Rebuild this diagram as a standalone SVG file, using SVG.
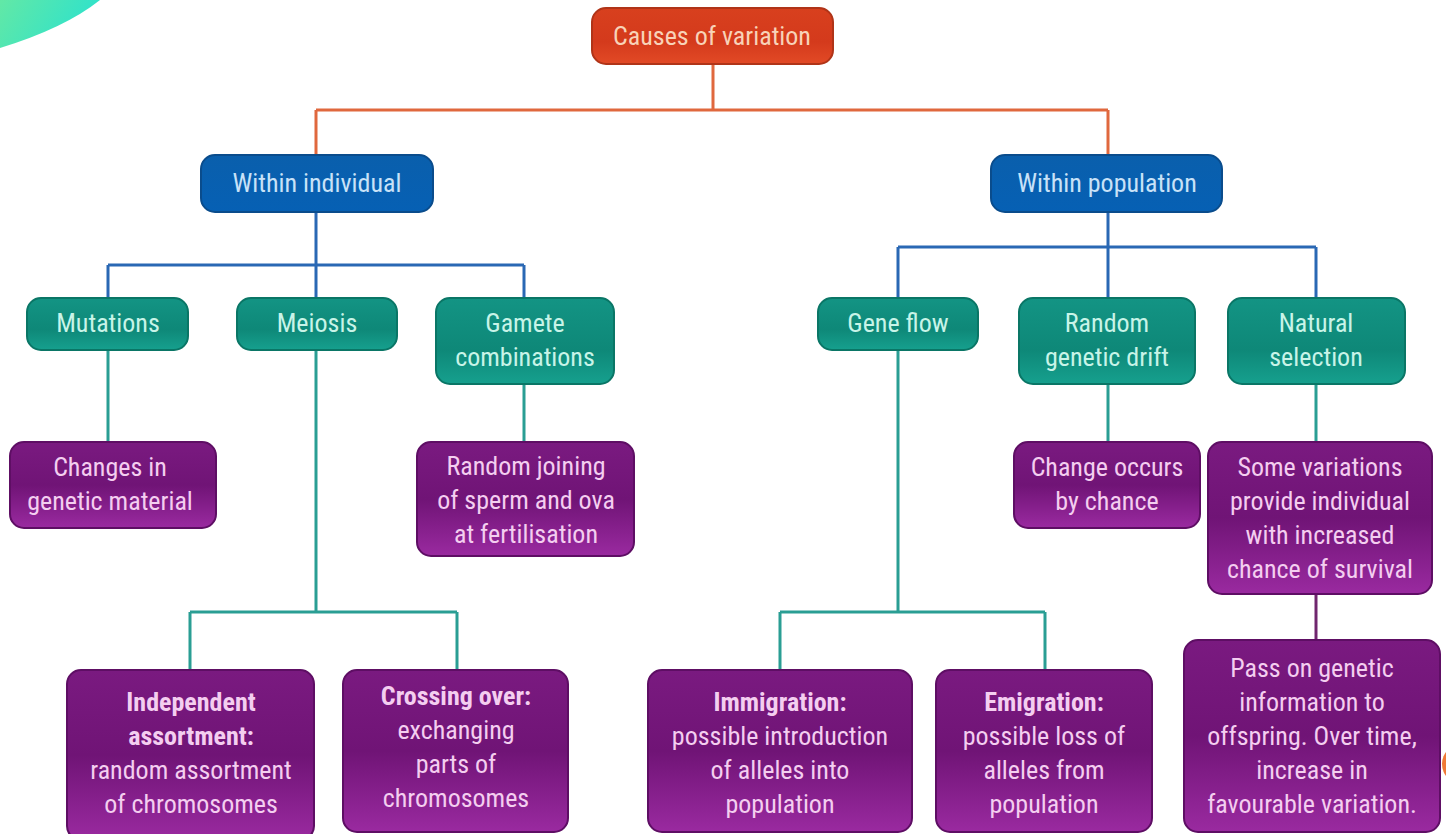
<svg xmlns="http://www.w3.org/2000/svg" width="1446" height="834" viewBox="0 0 1446 834">
<defs>
<linearGradient id="gTop" x1="0" y1="0" x2="1" y2="0.3"><stop offset="0" stop-color="#62e8a6"/><stop offset="1" stop-color="#2ee2cc"/></linearGradient>
<linearGradient id="gRed" x1="0" y1="0" x2="0" y2="1"><stop offset="0" stop-color="#d8401e"/><stop offset="0.6" stop-color="#d43a1c"/><stop offset="1" stop-color="#e24a26"/></linearGradient>
<linearGradient id="gBlue" x1="0" y1="0" x2="0" y2="1"><stop offset="0" stop-color="#0a5fac"/><stop offset="1" stop-color="#0660b4"/></linearGradient>
<linearGradient id="gTeal" x1="0" y1="0" x2="0" y2="1"><stop offset="0" stop-color="#139484"/><stop offset="0.6" stop-color="#0e8878"/><stop offset="1" stop-color="#16a08e"/></linearGradient>
<linearGradient id="gPurple" x1="0" y1="0" x2="0" y2="1"><stop offset="0" stop-color="#7a1a80"/><stop offset="0.5" stop-color="#701476"/><stop offset="1" stop-color="#9a2aa0"/></linearGradient>
</defs>
<style>
text{font-family:"Liberation Sans Narrow","Roboto Condensed","DejaVu Sans Condensed","Liberation Sans",sans-serif;font-stretch:condensed;font-size:26px;text-anchor:middle}
.red rect{fill:url(#gRed);stroke:#b03418;stroke-width:2}
.red text{fill:#f8d2b8}
.blue rect{fill:url(#gBlue);stroke:#0a4c8c;stroke-width:2}
.blue text{fill:#c8e2f8}
.teal rect{fill:url(#gTeal);stroke:#0a7666;stroke-width:2}
.teal text{fill:#c8f4e8}
.pur rect{fill:url(#gPurple);stroke:#5e0e64;stroke-width:2}
.pur text{fill:#f4cef0}
.b{font-weight:bold}
#connectors path{fill:none;stroke-width:3}
.lo{stroke:#e0683e}.lb{stroke:#2a68b4}.lt{stroke:#2a9e94}.lp{stroke:#70266e}
</style>
<rect width="1446" height="834" fill="#ffffff"/>
<path d="M0,0 L100,0 Q65,28 0,48 Z" fill="url(#gTop)"/>
<circle cx="1462" cy="764" r="20" fill="#f07a36"/>
<g id="connectors">
<path class="lo" d="M713,64 V110 M316,110 H1108 M316,110 V155 M1108,110 V155"/>
<path class="lb" d="M316,212 V265 M108,265 H524 M108,265 V298 M316,265 V298 M524,265 V298"/>
<path class="lb" d="M1108,212 V247 M898,247 H1316 M898,247 V298 M1108,247 V298 M1316,247 V298"/>
<path class="lt" d="M108,350 V442 M524,384 V442 M316,350 V612 M190,612 H457 M190,612 V670 M457,612 V670"/>
<path class="lt" d="M898,350 V612 M780,612 H1045 M780,612 V670 M1045,612 V670 M1108,384 V442 M1316,384 V442"/>
<path class="lp" d="M1316,594 V640"/>
</g>
<g id="causes" class="red"><rect x="592" y="8" width="241" height="56" rx="14"/><text x="712" y="45">Causes of variation</text></g>
<g id="within-individual" class="blue"><rect x="201" y="155" width="232" height="57" rx="14"/><text x="317" y="192">Within individual</text></g>
<g id="within-population" class="blue"><rect x="991" y="155" width="231" height="57" rx="14"/><text x="1107" y="192">Within population</text></g>
<g id="mutations" class="teal"><rect x="27" y="298" width="161" height="52" rx="14"/><text x="108" y="332">Mutations</text></g>
<g id="meiosis" class="teal"><rect x="237" y="298" width="160" height="52" rx="14"/><text x="317" y="332">Meiosis</text></g>
<g id="gamete" class="teal"><rect x="436" y="298" width="178" height="86" rx="14"/><text x="525" y="332">Gamete</text><text x="525" y="366">combinations</text></g>
<g id="gene-flow" class="teal"><rect x="818" y="298" width="160" height="52" rx="14"/><text x="898" y="332">Gene flow</text></g>
<g id="drift" class="teal"><rect x="1019" y="298" width="176" height="86" rx="14"/><text x="1107" y="332">Random</text><text x="1107" y="366">genetic drift</text></g>
<g id="natural" class="teal"><rect x="1228" y="298" width="177" height="86" rx="14"/><text x="1316" y="332">Natural</text><text x="1316" y="366">selection</text></g>
<g id="changes" class="pur"><rect x="10" y="442" width="206" height="86" rx="14"/><text x="110" y="476">Changes in</text><text x="110" y="510">genetic material</text></g>
<g id="random-joining" class="pur"><rect x="417" y="442" width="217" height="114" rx="14"/><text x="526" y="475">Random joining</text><text x="526" y="509">of sperm and ova</text><text x="526" y="543">at fertilisation</text></g>
<g id="chance" class="pur"><rect x="1014" y="442" width="186" height="86" rx="14"/><text x="1107" y="476">Change occurs</text><text x="1107" y="510">by chance</text></g>
<g id="some-variations" class="pur"><rect x="1208" y="442" width="224" height="152" rx="14"/><text x="1320" y="476">Some variations</text><text x="1320" y="510">provide individual</text><text x="1320" y="544">with increased</text><text x="1320" y="578">chance of survival</text></g>
<g id="independent" class="pur"><rect x="67" y="670" width="247" height="170" rx="14"/><text class="b" x="191" y="711">Independent</text><text class="b" x="191" y="745">assortment:</text><text x="191" y="779">random assortment</text><text x="191" y="813">of chromosomes</text></g>
<g id="crossing" class="pur"><rect x="343" y="670" width="225" height="162" rx="14"/><text class="b" x="456" y="705">Crossing over:</text><text x="456" y="739">exchanging</text><text x="456" y="773">parts of</text><text x="456" y="807">chromosomes</text></g>
<g id="immigration" class="pur"><rect x="648" y="670" width="264" height="162" rx="14"/><text class="b" x="780" y="711">Immigration:</text><text x="780" y="745">possible introduction</text><text x="780" y="779">of alleles into</text><text x="780" y="813">population</text></g>
<g id="emigration" class="pur"><rect x="936" y="670" width="216" height="162" rx="14"/><text class="b" x="1044" y="711">Emigration:</text><text x="1044" y="745">possible loss of</text><text x="1044" y="779">alleles from</text><text x="1044" y="813">population</text></g>
<g id="pass-on" class="pur"><rect x="1184" y="640" width="256" height="192" rx="14"/><text x="1312" y="677">Pass on genetic</text><text x="1312" y="711">information to</text><text x="1312" y="745">offspring. Over time,</text><text x="1312" y="779">increase in</text><text x="1312" y="813">favourable variation.</text></g>
</svg>
